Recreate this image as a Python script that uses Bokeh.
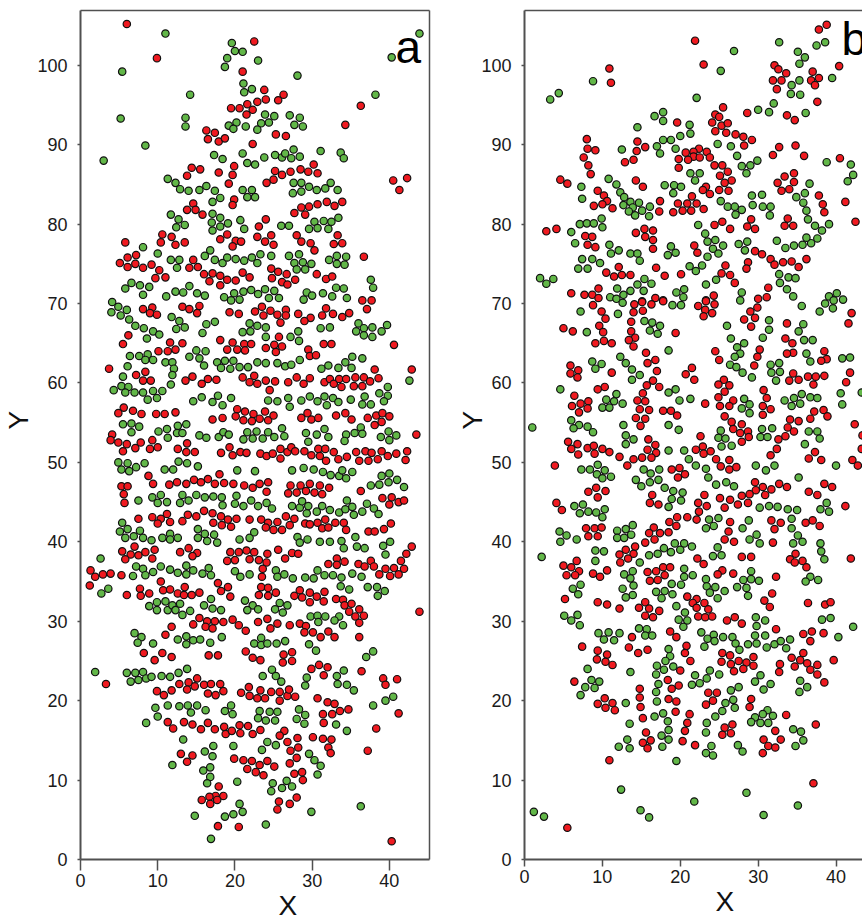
from bokeh.plotting import figure
from bokeh.layouts import row
from bokeh.models import LinearAxis, FixedTicker, Label, Range1d, Title
from bokeh.embed import file_html
from bokeh.resources import INLINE

x_ticks = [0, 10, 20, 30, 40]
y_ticks = [0, 10, 20, 30, 40, 50, 60, 70, 80, 90, 100]

# flat x,y pairs
a_red = [6.0,105.2, 9.9,100.9, 22.5,103.0, 21.0,99.2, 23.8,96.9, 26.3,96.3, 24.0,95.7, 25.6,95.6, 22.9,95.4, 21.6,95.1, 19.5,94.6, 20.6,94.6, 22.3,94.4, 21.5,93.8, 36.3,94.9, 34.3,92.5,
16.3,91.8, 17.4,91.5, 16.5,90.7, 17.9,90.4, 18.7,90.8, 25.3,91.3, 26.6,91.1, 22.3,90.1, 30.2,87.5, 14.4,87.1, 15.5,86.9, 19.9,87.3, 28.5,86.9, 29.5,86.6, 30.7,86.4, 27.2,86.6, 25.2,86.7, 17.9,86.5, 19.7,86.2, 13.8,86.1, 26.1,86.2, 25.0,85.6, 24.1,85.2, 19.2,85.1, 40.5,85.5, 42.3,85.8, 41.3,84.3,
19.9,83.1, 19.7,82.4, 14.6,82.6, 13.8,81.8, 14.9,81.8, 15.8,81.2, 33.9,82.8, 31.9,82.8, 30.7,82.5, 32.9,82.3, 29.6,82.2, 28.6,82.1, 27.7,81.4, 29.1,81.2, 24.0,80.6, 23.1,79.7, 10.6,78.7, 11.8,78.4, 10.4,77.7, 12.3,77.4, 13.5,77.7, 5.8,77.7, 19.0,78.7, 18.1,78.1, 20.1,77.9, 20.8,77.8, 19.7,77.2, 22.9,78.4, 24.7,78.6, 23.9,77.8, 25.0,77.4, 28.0,78.6, 28.6,77.8, 29.8,77.6, 30.3,76.7, 33.3,78.6, 32.8,77.5, 33.9,77.6, 36.7,75.9,
7.2,76.1, 6.1,75.8, 5.1,75.1, 6.1,74.6, 7.1,75.0, 8.1,74.5, 9.2,74.9, 10.2,74.2, 9.7,73.2, 11.0,73.3, 14.6,75.5, 14.1,74.5, 15.2,74.6, 16.0,73.7, 17.1,73.8, 16.7,72.8, 18.1,73.5, 19.0,73.0, 18.1,72.3, 20.1,72.9, 21.0,73.9, 21.9,73.3, 24.7,74.4, 25.6,74.0, 26.7,73.7, 24.8,73.2, 26.1,72.7, 26.8,72.4, 27.8,73.0, 30.6,73.7, 31.8,73.1, 32.6,73.4, 36.5,70.4, 37.7,70.4,
8.1,69.3, 9.3,69.5, 9.0,68.8, 9.9,68.6, 13.2,69.6, 14.1,69.3, 15.4,69.7, 15.1,68.8, 19.3,68.9, 20.5,68.7, 22.6,69.0, 23.5,69.6, 23.7,68.5, 24.6,69.1, 25.5,68.6, 26.6,69.2, 26.6,68.5, 28.2,68.7, 29.8,68.2, 29.0,67.8, 31.3,68.5, 31.8,69.4, 32.7,68.7, 33.9,68.3, 34.8,68.8, 37.1,69.3, 25.9,67.6, 6.2,66.0, 5.5,64.9, 11.6,65.1, 13.2,65.0, 10.1,64.0, 11.3,64.0, 12.3,64.2, 18.1,65.4, 19.7,65.1, 19.0,64.2, 20.3,64.2, 21.2,64.9, 22.1,64.9, 21.3,64.1, 25.7,65.8, 25.1,64.8, 26.1,64.6, 24.0,64.4, 25.3,63.9, 31.5,64.9, 32.5,64.9, 29.5,64.2, 29.7,63.4, 30.5,63.5, 40.6,64.8,
3.7,61.8, 8.4,61.4, 7.2,61.0, 8.1,60.3, 9.1,60.3, 14.5,60.8, 13.6,60.3, 15.7,59.9, 16.5,60.5, 17.6,60.4, 21.0,60.7, 22.5,60.9, 21.9,60.1, 22.9,59.9, 24.0,60.3, 25.2,60.2, 24.5,59.1, 26.9,60.1, 28.0,60.7, 28.9,59.9, 29.7,60.6, 31.6,60.1, 32.3,60.5, 32.8,59.9, 33.5,60.5, 33.8,59.5, 34.4,60.5, 35.4,59.6, 35.6,60.7, 36.5,59.6, 36.7,60.7, 37.5,60.2, 38.6,60.6, 38.1,61.7, 42.9,61.7,
5.6,56.9, 4.9,56.2, 6.8,56.5, 7.9,56.1, 9.8,56.1, 10.9,56.1, 12.3,56.3, 17.1,55.4, 18.4,55.6, 20.3,56.7, 20.1,55.8, 21.3,56.4, 21.1,55.3, 22.4,56.1, 22.2,55.2, 23.2,55.5, 23.9,56.4, 24.3,55.3, 25.0,55.9, 28.6,55.6, 29.4,56.2, 29.9,55.4, 30.8,55.6, 33.1,55.9, 34.3,56.2, 35.1,55.4, 37.2,55.6, 38.3,55.9, 39.1,56.2, 40.0,55.8, 38.1,54.7, 39.0,55.1, 43.5,53.5,
4.1,53.5, 3.9,52.8, 4.9,52.5, 6.0,52.3, 7.1,51.8, 7.8,52.5, 5.5,51.4, 9.3,52.8, 9.0,51.7, 10.0,51.9, 13.8,52.4, 12.6,51.7, 13.7,51.3, 14.8,51.3, 19.3,51.9, 18.2,51.2, 19.7,50.9, 20.7,51.3, 21.5,51.2, 23.3,51.1, 24.1,50.8, 24.9,51.1, 25.9,51.7, 25.9,50.5, 26.8,51.3, 27.3,51.9, 27.8,51.4, 29.0,51.4, 29.9,50.9, 30.8,51.7, 31.0,50.8, 31.7,51.7, 31.8,50.2, 32.8,51.3, 33.4,50.4, 34.5,50.7, 35.7,51.3, 36.1,50.2, 36.9,51.4, 37.3,50.2, 37.7,51.2, 38.5,50.4, 39.0,51.4, 39.8,50.8, 40.9,51.1, 42.3,51.4, 42.1,50.3,
8.8,48.3, 9.4,47.3, 5.3,47.0, 6.1,47.0, 5.6,46.0, 5.7,44.9, 11.5,47.2, 12.5,47.5, 13.7,47.3, 14.7,47.8, 15.6,47.5, 16.5,47.9, 17.4,47.3, 18.0,48.5, 18.6,47.4, 19.8,47.3, 21.2,47.1, 22.3,46.8, 23.2,47.3, 24.3,47.5, 24.1,46.3, 27.2,47.1, 26.9,46.1, 28.0,46.2, 28.5,47.1, 29.2,46.4, 29.7,47.3, 30.3,46.2, 31.0,47.1, 31.3,46.0, 32.2,46.8, 36.3,46.4, 39.1,45.5, 40.3,45.6, 40.0,44.7, 41.2,45.0, 41.9,45.2,
11.2,43.5, 10.4,42.9, 9.3,43.1, 10.0,42.3, 11.6,42.5, 7.5,42.9, 13.2,42.6, 13.9,43.4, 15.0,43.2, 16.0,43.9, 17.1,43.6, 18.2,43.2, 17.2,42.4, 18.3,42.1, 19.1,42.8, 19.5,41.9, 20.2,42.9, 21.9,42.8, 23.4,42.8, 24.3,42.4, 24.0,41.8, 25.0,41.5, 25.5,42.5, 26.1,41.5, 26.6,43.2, 27.1,42.1, 27.7,42.9, 29.1,42.3, 29.7,42.2, 30.7,42.4, 31.7,42.8, 31.3,41.7, 32.1,41.8, 33.0,42.4, 34.1,42.4, 34.4,41.5, 37.3,41.3, 38.1,41.3, 39.3,41.6, 40.2,42.3,
5.4,38.8, 7.0,39.4, 6.5,38.4, 5.8,37.8, 7.5,38.3, 8.4,38.7, 9.6,39.0, 9.3,37.9, 12.9,38.7, 14.0,39.2, 15.1,38.6, 14.5,38.2, 19.4,38.7, 20.5,38.7, 21.5,38.9, 22.5,38.7, 19.0,37.6, 20.0,37.7, 21.9,37.8, 23.1,37.7, 24.2,38.5, 24.1,37.4, 25.6,39.0, 26.5,37.9, 27.4,38.6, 28.2,38.5, 32.1,37.2, 33.2,37.9, 33.2,37.1, 34.2,37.5, 36.0,37.2, 36.8,36.9, 37.6,37.6, 38.0,36.9, 39.5,36.6, 40.6,36.7, 41.5,37.6, 42.2,38.5, 42.9,39.4, 41.9,36.6, 38.7,35.9, 40.1,35.7, 41.2,35.9, 1.3,36.4, 1.9,35.6, 2.9,35.9, 3.9,36.0, 5.3,35.8, 23.6,36.6, 23.5,35.6,
1.2,34.5, 6.0,33.3, 7.7,34.1, 7.8,33.2, 8.9,33.5, 10.4,35.0, 10.7,33.9, 11.6,34.0, 12.6,33.5, 13.5,34.3, 13.4,33.3, 14.4,33.3, 15.4,33.6, 17.8,34.8, 19.1,34.3, 18.2,33.8, 19.4,33.1, 23.4,34.3, 24.3,34.2, 23.1,33.3, 24.3,33.2, 25.3,33.6, 27.7,33.2, 28.4,33.9, 28.7,33.0, 29.7,33.6, 29.7,32.4, 30.6,33.1, 31.6,33.7, 31.5,32.5, 33.1,32.8, 34.0,32.7, 34.2,32.0, 35.1,32.2, 34.8,31.2, 36.1,31.5, 35.6,30.6, 36.7,30.7, 36.1,29.8, 43.9,31.2,
15.4,30.4, 16.4,30.0, 17.4,30.0, 16.2,29.3, 17.1,29.1, 14.6,29.6, 18.5,29.9, 19.7,30.2, 20.5,29.5, 21.4,28.8, 23.0,29.9, 24.2,30.3, 24.6,29.1, 25.5,29.7, 27.1,29.5, 28.4,29.7, 29.2,29.4, 29.0,28.6, 30.1,28.6, 31.1,28.0, 32.1,28.7, 32.9,28.0, 36.1,28.0, 11.8,29.3, 11.0,28.3, 8.2,26.0, 9.6,25.1, 10.6,26.0, 11.8,25.5, 16.6,25.7, 17.8,25.7, 21.4,26.2, 22.3,25.4, 23.3,25.1, 26.3,25.8, 27.4,26.1, 26.2,24.8, 27.4,25.0, 29.9,24.0, 30.9,24.5, 32.0,24.2, 31.5,23.2, 36.4,23.7, 39.2,22.8, 41.0,22.7, 39.5,22.0, 3.3,22.1,
15.1,22.8, 14.0,22.3, 12.8,22.1, 14.8,21.8, 13.8,21.4, 11.8,21.3, 9.9,21.2, 10.8,20.7, 16.0,22.0, 16.9,22.1, 18.1,22.1, 18.5,21.2, 16.5,20.9, 17.5,20.7, 20.8,21.0, 21.8,21.7, 21.9,20.6, 23.3,21.3, 22.9,20.3, 23.9,20.3, 24.7,21.1, 25.8,21.1, 26.8,20.6, 27.0,21.4, 25.8,20.0, 27.8,20.5, 30.7,20.3, 32.0,19.8, 32.9,19.6, 34.7,18.9, 33.6,18.7, 32.6,18.3, 31.4,18.3, 31.5,17.2, 41.2,18.4, 38.3,16.5,
11.3,17.3, 12.0,16.5, 13.4,17.3, 14.5,17.0, 15.6,16.4, 16.5,17.2, 17.4,16.4, 18.6,16.7, 18.8,15.8, 19.6,16.2, 20.6,16.9, 20.7,15.9, 21.7,16.8, 22.3,15.8, 23.3,16.3, 26.4,16.2, 25.8,15.6, 28.1,15.3, 26.8,14.8, 28.2,14.1, 27.2,13.7, 28.0,12.8, 27.1,12.1, 30.1,15.4, 31.4,15.2, 32.5,15.1, 32.1,14.1, 32.4,13.4, 37.2,13.7, 13.0,13.3, 14.5,13.1, 13.8,12.3, 19.9,12.7, 21.1,12.5, 22.2,12.4, 23.2,11.9, 24.2,12.4, 25.1,11.7, 21.6,11.4, 22.7,11.0, 23.7,10.6, 27.7,10.8, 28.7,11.0, 28.8,10.0,
17.9,9.2, 17.5,8.0, 18.5,8.0, 16.7,7.9, 15.7,7.5, 16.8,7.0, 17.7,7.5, 28.0,7.8, 25.7,7.3, 27.1,7.0, 25.5,6.3, 17.8,4.2, 20.5,4.1, 40.3,2.3]

a_green = [43.9,104.0, 40.3,101.0, 11.0,104.0, 5.4,99.2, 19.6,102.8, 20.0,101.8, 21.0,101.7, 19.0,100.9, 18.7,99.8, 23.0,100.6, 28.1,98.7, 21.1,97.7, 22.2,97.0, 21.2,96.6, 14.2,96.3, 38.2,96.3, 5.2,93.3, 13.6,93.4, 13.6,92.3, 23.9,93.8, 25.1,93.6, 27.1,93.7, 28.4,93.4, 27.7,92.5, 28.8,92.3, 24.4,92.8, 23.4,92.7, 22.9,91.9, 21.4,92.3, 20.2,92.8, 19.2,92.4, 19.8,92.0, 8.4,89.9, 3.0,88.0,
17.3,88.7, 18.4,88.2, 21.0,88.9, 21.6,87.7, 22.6,87.5, 23.8,88.4, 25.2,88.7, 26.1,88.4, 26.5,88.9, 27.3,88.3, 27.6,89.4, 28.4,88.5, 31.1,89.2, 33.7,89.0, 34.1,88.3, 11.3,85.7, 12.3,85.2, 12.9,84.4, 14.0,84.2, 15.4,84.3, 16.3,84.8, 17.4,84.2, 18.1,83.3, 17.1,82.8, 21.0,84.3, 22.2,84.3, 21.6,83.4, 22.6,83.4, 27.6,85.2, 28.6,85.2, 29.6,84.7, 27.5,83.9, 28.6,84.1, 30.6,84.3, 31.7,84.5, 32.4,85.2, 33.3,84.3,
11.7,81.2, 12.7,80.6, 13.5,79.9, 12.4,79.6, 17.1,81.3, 18.1,80.8, 17.0,80.2, 18.1,79.7, 19.1,80.1, 17.1,79.2, 20.7,80.5, 21.2,79.4, 26.0,79.8, 27.0,79.8, 30.3,80.3, 31.5,80.4, 32.5,80.3, 33.4,80.8, 29.6,79.4, 30.7,79.5, 32.1,79.4, 8.1,77.1, 10.0,76.3, 16.8,76.7, 16.1,76.0, 11.7,75.5, 12.8,75.5, 12.5,74.5, 17.4,75.5, 18.4,75.1, 19.0,75.8, 20.1,75.6, 21.2,75.4, 22.2,75.8, 23.3,76.2, 22.9,75.1, 24.7,76.0, 27.0,76.0, 28.3,76.2, 27.7,75.1, 28.8,75.2, 29.9,75.0, 28.0,74.3, 29.1,74.3, 32.2,75.5, 33.2,76.0, 34.4,75.9, 33.2,75.0, 34.2,74.9,
37.6,73.0, 37.9,72.0, 33.1,72.0, 34.1,71.9, 6.6,72.6, 7.7,72.3, 8.9,72.1, 5.8,71.9, 8.1,71.1, 11.1,70.9, 12.3,71.5, 13.3,71.4, 14.1,72.2, 15.1,71.3, 16.1,71.0, 18.6,70.8, 19.9,71.3, 21.1,71.5, 22.1,71.7, 23.0,71.2, 23.9,71.8, 25.1,71.6, 19.5,70.4, 20.6,70.5, 24.4,70.7, 25.7,70.7, 29.3,71.4, 30.0,71.0, 28.9,70.5, 31.4,71.3, 32.6,70.9, 34.5,70.7,
4.1,70.2, 4.9,69.6, 6.0,69.2, 4.0,68.9, 5.2,68.5, 6.3,68.0, 7.1,67.2, 8.2,66.9, 9.4,66.5, 10.2,66.1, 8.6,65.6, 11.8,68.3, 12.8,67.8, 13.5,67.0, 12.4,66.8, 16.3,67.4, 17.4,67.7, 15.8,66.3, 21.9,67.5, 22.9,67.2, 21.0,66.4, 22.0,66.5, 24.0,67.0, 24.0,65.8, 28.2,66.5, 27.2,65.8, 28.3,65.3, 31.1,66.9, 32.3,67.0, 36.0,67.5, 36.7,66.9, 35.7,66.5, 37.8,67.0, 36.7,66.0, 37.8,65.8, 39.0,66.5, 39.7,67.3,
6.4,63.4, 7.6,63.4, 8.7,63.6, 8.4,62.9, 9.4,62.9, 11.0,62.6, 11.9,62.6, 12.1,61.8, 11.9,61.0, 11.7,59.8, 6.1,62.1, 5.5,60.8, 5.3,59.6, 6.2,59.5, 4.3,59.1, 5.8,58.8, 7.0,58.8, 8.1,58.8, 9.4,59.0, 10.6,59.0, 9.9,58.1, 8.7,57.9, 14.1,63.3, 15.0,64.1, 16.2,64.0, 15.4,63.1, 16.0,62.2, 17.7,62.6, 18.7,62.8, 19.8,62.8, 18.2,61.9, 19.4,61.8, 20.6,62.0, 21.7,62.0, 22.9,62.6, 24.0,62.5, 25.5,62.5, 26.5,62.1, 27.3,62.3, 28.4,62.9, 31.2,61.8, 32.1,62.2, 33.4,61.9, 34.3,62.6, 35.2,63.3, 36.5,63.1, 35.1,61.9, 42.6,60.3, 39.8,59.5, 38.7,58.7, 39.8,58.4, 39.3,57.7,
14.6,57.7, 15.7,58.2, 17.1,57.6, 17.8,58.4, 18.4,57.2, 19.5,58.1, 24.3,57.8, 25.5,57.7, 26.9,58.1, 27.1,57.0, 28.6,57.8, 29.7,58.3, 30.7,57.7, 31.6,58.3, 32.7,58.1, 33.4,57.6, 31.9,57.2, 35.0,57.9, 36.8,58.3, 36.5,57.3, 37.6,57.3, 5.5,54.8, 6.6,54.9, 7.6,54.5, 6.6,53.8, 10.1,53.9, 11.2,54.2, 11.3,53.1, 12.6,54.6, 13.7,54.8, 12.5,53.7, 13.2,53.7, 15.4,53.4, 16.3,53.1, 17.9,53.2, 18.5,53.8, 19.2,53.5, 21.6,53.8, 22.8,53.9, 24.3,53.8, 25.1,53.2, 21.1,52.9, 22.3,53.0, 23.6,53.0, 26.1,54.3, 26.4,53.3, 29.2,53.7, 29.5,52.6, 30.6,53.5, 31.6,54.2, 32.1,53.2, 34.4,53.5, 34.2,52.7, 35.5,53.7, 36.3,54.4, 36.5,53.6, 38.9,53.2, 39.9,53.9, 40.9,53.4, 40.0,52.8,
4.9,50.0, 6.1,49.9, 5.3,49.1, 6.3,48.9, 7.2,49.4, 8.3,49.9, 10.9,49.1, 12.0,49.1, 12.7,50.1, 13.8,49.9, 15.2,49.5, 20.3,49.0, 22.6,48.9, 27.4,49.0, 28.9,49.3, 30.2,49.1, 31.4,48.8, 32.4,48.4, 33.5,48.3, 33.9,49.0, 35.2,48.8, 34.4,48.0, 39.0,48.3, 40.0,48.6, 41.0,47.8, 39.9,47.5, 38.7,47.2, 37.6,47.1, 41.9,46.9, 7.5,45.2, 9.3,45.6, 10.4,45.9, 10.0,44.9, 11.2,45.0, 13.2,45.9, 14.0,45.2, 12.9,44.9, 15.0,45.9, 16.1,45.6, 17.2,45.7, 18.3,45.6, 18.4,44.6, 20.2,45.8, 20.0,44.8, 21.1,44.5, 22.1,45.2, 23.0,44.5, 24.1,44.9, 24.8,44.2, 27.4,44.5, 28.4,44.3, 28.7,45.1, 29.5,44.5, 29.3,43.6, 30.6,43.8, 31.3,44.5, 32.3,44.0, 33.5,43.7, 34.3,44.1, 34.5,45.2, 35.2,44.4, 35.4,43.4, 36.5,43.8, 37.1,44.8, 38.0,44.2, 38.6,43.5,
5.4,42.4, 5.1,41.3, 6.1,41.6, 5.8,40.5, 6.9,40.7, 7.7,41.4, 8.1,40.5, 9.2,40.2, 10.6,40.5, 11.6,41.0, 11.6,40.3, 12.6,40.5, 15.2,41.6, 16.1,41.0, 15.2,40.5, 17.3,40.9, 16.4,40.1, 17.7,39.9, 20.6,40.3, 21.9,40.5, 22.5,41.2, 28.1,40.6, 28.4,39.9, 29.4,40.3, 31.0,40.0, 32.3,40.0, 33.8,40.1, 34.1,39.2, 35.6,40.6, 35.8,39.4, 36.8,39.2, 39.2,39.5, 40.1,40.0, 39.5,38.4, 2.6,37.9, 7.2,36.9, 8.1,36.6, 9.4,36.2, 8.4,35.8, 6.8,35.7, 10.4,36.9, 11.6,36.5, 12.6,36.1, 13.7,37.0, 13.7,35.9, 14.6,36.4, 16.6,36.7, 15.8,36.0, 16.9,35.8, 20.0,36.3, 20.7,35.6, 21.9,35.9, 25.3,36.4, 25.5,35.6, 26.4,35.9, 27.5,35.4, 29.1,35.5, 30.2,35.4, 30.7,36.4, 31.6,35.8, 32.7,35.8, 33.8,35.5, 35.2,36.0, 36.4,35.6,
3.6,34.1, 2.7,33.5, 16.9,32.8, 16.0,32.0, 17.1,31.6, 18.2,31.4, 8.9,31.9, 9.9,32.4, 9.9,31.4, 11.0,32.5, 11.3,31.4, 11.9,32.0, 12.3,31.4, 12.9,32.2, 13.2,30.8, 14.2,31.3, 21.3,32.6, 22.3,32.0, 21.6,31.4, 23.0,31.5, 25.8,32.3, 26.8,32.0, 25.2,31.5, 26.2,31.1, 33.7,34.4, 34.8,34.0, 37.2,34.3, 38.4,34.3, 39.4,33.8, 38.5,33.2, 29.8,30.6, 30.7,30.7, 31.7,30.6, 30.8,29.9, 33.5,30.6, 32.9,30.1, 34.0,29.5,
7.0,28.5, 7.9,28.0, 7.4,27.3, 9.4,27.2, 12.6,27.7, 13.7,28.1, 14.6,27.6, 13.7,27.1, 15.5,27.7, 16.8,27.3, 18.3,28.0, 23.4,27.9, 22.5,27.2, 23.4,27.0, 24.2,27.2, 25.4,27.2, 26.5,27.5, 29.6,27.1, 30.5,26.3, 37.9,26.2, 37.0,25.5, 1.9,23.6, 6.0,23.5, 7.1,23.5, 8.1,23.6, 6.5,22.4, 7.5,22.6, 8.5,22.8, 9.2,23.0, 10.5,23.1, 11.6,23.0, 12.7,23.5, 13.8,24.0, 24.8,23.9, 23.6,23.1, 25.3,23.1, 26.0,22.4, 29.3,22.9, 29.1,21.9, 34.1,23.8, 33.2,23.1, 33.3,22.1, 34.5,22.0, 35.4,21.3, 40.5,20.5, 39.5,20.0, 37.9,19.4,
9.7,19.1, 10.0,18.0, 8.5,17.2, 11.3,19.4, 12.8,19.3, 13.9,19.4, 15.1,19.4, 14.3,18.5, 16.2,18.8, 19.5,19.4, 18.7,18.7, 19.7,18.3, 23.2,18.7, 24.5,18.6, 25.5,18.6, 23.0,17.8, 24.0,17.5, 25.2,17.5, 28.3,18.9, 29.1,18.2, 28.0,17.7, 29.0,17.1, 33.1,17.0, 34.5,16.2, 13.3,15.1, 17.2,14.3, 16.1,13.6, 17.1,13.0, 19.8,14.3, 24.2,14.8, 25.3,14.4, 23.5,13.8, 29.6,13.3, 30.3,12.5, 31.1,11.8, 30.7,10.7, 11.9,11.9, 16.8,11.6, 15.9,11.2, 16.8,10.4, 16.4,9.6, 20.3,9.8, 24.9,9.6, 26.7,9.9, 27.4,9.2, 26.1,9.0, 24.7,8.6, 20.6,7.0, 21.0,6.0, 19.8,5.7, 18.7,5.4, 14.8,5.5, 29.9,6.0, 36.3,6.7, 24.0,4.4, 16.9,2.6]

b_red = [38.8,105.1, 37.8,104.5, 21.9,103.1, 23.0,100.1, 10.9,99.6, 11.1,97.8, 32.1,100.0, 32.6,99.5, 33.6,99.0, 37.0,99.2, 37.8,98.4, 36.8,98.1, 37.3,97.5, 31.9,98.1, 33.0,98.1, 32.4,97.0, 40.4,99.9, 37.6,95.4, 25.5,94.7, 24.5,93.8, 25.0,93.5, 24.1,92.8, 25.3,92.4, 26.1,92.7, 24.5,91.7, 25.9,91.5, 27.1,91.3, 28.1,91.0, 29.2,90.6, 28.2,89.9, 28.6,94.0, 33.7,93.7, 34.7,93.1, 19.6,92.8,
8.0,90.7, 8.1,89.5, 9.1,89.3, 7.6,88.4, 8.2,87.4, 8.5,86.3, 14.5,90.4, 14.4,89.2, 15.5,89.7, 14.0,88.1, 12.9,87.8, 22.4,89.5, 21.7,89.1, 20.7,89.0, 23.4,89.1, 21.7,88.5, 22.5,88.4, 23.8,88.4, 19.8,88.2, 21.0,88.1, 19.8,87.1, 24.4,87.4, 25.4,87.4, 26.1,86.6, 25.1,86.1, 26.6,85.5, 25.7,85.2, 32.7,89.7, 31.9,88.7, 34.8,89.9, 35.9,88.6, 40.5,88.3, 4.6,85.6, 5.5,85.1, 14.3,85.5, 15.2,84.7, 23.3,84.7, 22.9,84.3, 23.8,83.8, 25.0,84.3, 26.2,84.2, 33.4,86.0, 34.6,86.4, 34.6,85.3, 32.5,85.2, 33.0,84.2, 34.0,84.4, 37.8,83.6, 38.3,82.5, 38.5,81.5, 41.2,82.8, 42.5,80.3,
9.4,84.2, 10.2,83.6, 10.6,82.9, 10.0,82.5, 8.9,82.3, 11.3,82.0, 17.4,82.9, 17.3,81.6, 19.1,81.5, 19.7,82.6, 20.3,81.7, 20.9,82.6, 21.5,83.5, 22.1,82.6, 21.4,81.7, 23.0,81.9, 29.1,80.6, 28.6,79.7, 29.6,79.4, 33.8,80.7, 33.4,79.8, 34.5,79.8, 24.4,79.9, 25.4,80.3, 26.4,79.4, 4.1,79.4, 2.8,79.1, 7.8,78.5, 8.7,78.4, 8.1,77.4, 9.1,77.1, 14.3,78.9, 15.4,79.4, 16.5,79.2, 15.5,78.4, 16.5,78.0, 16.5,76.9, 21.8,77.3, 22.2,76.4, 29.6,76.6, 30.5,76.2, 31.6,75.6, 32.1,74.9, 33.2,75.2, 34.3,75.3, 35.2,74.6, 36.2,75.6, 28.7,75.2, 28.5,74.4, 25.8,74.8, 25.3,73.8, 26.4,73.6, 27.0,72.6,
12.1,74.6, 10.5,73.9, 11.5,73.4, 12.5,73.6, 13.6,73.6, 16.9,74.5, 18.0,73.5, 20.1,73.7, 31.3,72.0, 6.0,71.3, 7.7,71.1, 8.7,71.1, 9.5,71.9, 9.5,70.7, 16.8,70.7, 17.8,70.4, 24.3,71.0, 23.3,70.4, 31.1,70.8, 30.0,70.6, 15.1,70.3,
8.8,69.8, 9.9,69.0, 10.4,68.1, 14.1,69.9, 15.1,70.2, 16.3,69.9, 17.8,70.3, 15.2,69.1, 14.0,68.9, 13.7,67.7, 22.3,69.7, 23.3,70.3, 24.4,69.9, 23.2,69.2, 24.1,68.8, 23.0,68.4, 29.9,69.5, 29.0,69.0, 28.2,68.0, 29.6,68.2, 29.1,67.1, 42.0,68.8, 41.6,67.5, 33.7,67.5, 5.0,66.9, 6.2,66.5, 9.6,67.2, 10.1,66.4, 9.1,65.0, 10.2,65.3, 11.2,65.0, 13.7,66.5, 14.2,65.7, 13.4,65.4, 14.0,64.6, 19.4,66.3, 33.5,65.6, 34.4,65.0, 34.5,63.8, 33.7,63.7, 30.2,64.2, 29.9,63.3, 29.5,62.2, 24.5,64.0, 25.0,62.9, 38.5,64.0, 38.8,63.0, 38.1,62.8,
15.6,63.8, 16.8,62.9, 15.8,62.5, 17.0,61.5, 5.9,62.2, 6.9,61.6, 5.9,61.2, 6.8,60.7, 11.2,61.3, 21.5,61.9, 20.7,61.1, 21.8,60.4, 16.5,60.3, 15.7,59.7, 17.3,59.5, 15.2,58.7, 10.3,59.5, 9.4,59.2, 6.4,58.4, 25.6,60.4, 24.9,59.8, 26.3,59.7, 25.7,58.9, 24.9,58.2, 26.8,57.8, 25.1,57.1, 26.3,57.1, 23.2,57.4, 30.7,59.1, 31.1,58.1, 30.6,57.1, 31.6,56.7, 30.6,56.0, 34.5,61.2, 34.0,60.3, 35.2,60.4, 36.4,60.8, 37.4,60.8, 38.5,60.9, 37.1,59.8, 41.8,61.3, 41.3,60.1,
8.2,57.7, 7.2,57.4, 6.1,57.1, 8.1,56.8, 7.0,56.3, 14.5,57.8, 15.5,57.7, 14.8,56.7, 16.0,56.6, 14.3,55.6, 15.5,55.5, 14.9,54.6, 17.8,56.5, 18.8,56.5, 19.6,55.9, 25.7,55.8, 26.6,55.1, 27.9,54.8, 26.8,54.2, 27.7,53.7, 28.7,53.9, 28.8,53.2, 27.9,52.6, 37.2,56.4, 38.4,56.6, 38.9,55.8, 36.7,55.5, 35.2,55.2, 34.1,55.4, 33.8,54.4, 34.6,53.9, 33.5,53.3, 32.6,52.9, 32.4,51.7, 31.6,50.9, 42.4,54.8,
22.6,53.3, 22.9,52.0, 22.0,51.6, 23.0,51.1, 23.9,51.4, 24.6,50.4, 26.3,50.3, 25.2,49.5, 26.3,49.1, 27.2,49.4, 15.9,52.9, 16.8,52.2, 15.8,51.6, 16.9,51.2, 16.3,50.6, 15.1,50.6, 14.0,50.4, 12.2,50.7, 13.2,49.6, 5.6,52.6, 6.8,52.3, 6.0,51.7, 6.9,51.0, 8.1,51.8, 8.9,52.1, 9.0,51.1, 10.0,51.7, 10.9,51.3, 3.9,49.6, 37.3,51.3, 36.5,50.5, 38.1,50.3, 42.1,50.3, 42.8,49.6, 43.4,53.4, 43.3,51.7, 18.9,49.1, 19.9,49.3, 20.6,48.5, 19.7,48.1,
8.2,46.3, 9.2,46.8, 10.4,46.4, 9.4,45.6, 4.1,44.9, 4.8,44.0, 29.6,47.5, 29.7,46.5, 30.6,46.9, 31.7,46.6, 32.7,47.3, 33.7,46.9, 30.9,45.9, 28.9,46.0, 27.9,45.8, 26.4,45.3, 25.1,45.5, 23.1,45.9, 27.4,44.7, 28.7,44.9, 25.7,44.3, 22.3,44.9, 23.4,44.5, 22.4,43.8, 36.5,46.3, 37.6,45.9, 38.5,47.3, 39.5,46.9, 41.2,44.5, 16.4,45.9, 16.1,44.9, 17.2,44.7, 19.6,43.1, 20.9,43.1, 22.1,42.8, 18.6,42.5, 19.5,42.0, 16.6,41.8, 16.0,41.1, 17.4,41.1, 18.5,41.2, 16.7,40.3, 15.5,39.9, 7.9,41.7, 9.0,41.7, 9.9,41.8, 8.2,40.7, 9.4,40.7,
14.2,39.4, 13.0,39.0, 12.2,38.4, 14.0,38.5, 13.3,37.9, 12.3,37.4, 26.4,42.5, 26.2,41.3, 31.7,42.7, 32.1,41.6, 32.9,42.4, 36.1,42.4, 37.0,42.7, 37.9,42.0, 25.7,40.3, 26.9,40.0, 31.9,39.9, 27.9,38.1, 29.1,38.1, 22.2,37.9, 23.0,37.2, 34.8,38.5, 34.1,37.8, 34.7,37.4, 35.7,37.6, 36.2,36.8, 41.9,37.9, 6.7,37.6, 5.0,37.0, 6.0,36.8, 7.0,36.3, 5.4,35.8, 6.5,35.8, 8.8,36.0, 9.7,35.6, 10.6,36.4, 15.8,36.2, 16.9,36.3, 17.8,36.8, 18.7,36.8, 18.0,35.8, 25.4,36.4, 24.8,35.9, 26.8,36.0, 32.3,35.6,
5.2,32.8, 9.4,32.4, 10.6,32.1, 12.2,31.6, 14.7,31.7, 15.5,32.4, 16.0,31.6, 17.3,31.3, 15.5,30.7, 16.5,30.5, 16.1,35.1, 17.1,35.2, 20.9,33.1, 22.1,32.8, 21.6,32.3, 23.1,32.3, 22.1,31.7, 23.6,31.5, 22.3,30.6, 23.2,30.5, 24.1,30.6, 26.0,30.1, 27.0,30.5, 27.9,29.7, 31.8,33.5, 30.8,32.6, 31.5,31.8, 36.4,32.3, 38.6,32.1, 39.3,32.4, 32.3,29.0, 35.8,28.4, 36.9,28.7, 38.4,28.5, 36.7,27.5, 35.8,26.0, 34.3,25.4, 35.4,25.1, 34.7,24.3, 36.3,24.7, 37.6,24.5, 36.7,23.9, 37.6,23.3, 38.5,22.3, 39.7,25.1,
18.7,28.7, 19.5,28.0, 13.8,28.0, 13.4,26.7, 14.6,26.0, 15.8,26.4, 7.4,26.8, 9.4,26.3, 10.6,25.8, 9.3,25.2, 10.4,24.9, 11.3,24.5, 20.8,26.9, 20.6,26.0, 21.3,25.0, 20.0,23.8, 25.4,26.0, 26.4,25.7, 25.3,24.9, 26.5,24.6, 27.5,25.0, 28.5,24.8, 29.4,25.5, 29.4,24.4, 28.1,24.0, 26.9,23.7, 32.8,24.6, 32.7,23.6, 6.4,22.4, 14.8,21.5, 14.8,20.4, 14.9,19.2, 15.2,17.8, 18.4,22.6, 18.9,21.5, 19.8,21.9, 18.5,20.2, 19.5,19.9, 19.4,18.6, 10.3,20.3, 9.4,19.6, 11.3,19.7, 10.4,19.1, 11.6,18.8, 23.6,21.0, 24.7,21.0, 24.2,20.0, 23.3,19.5, 29.1,20.2, 28.9,19.2, 21.2,18.3, 20.9,17.2, 20.6,16.2, 20.3,14.9, 21.9,14.4, 33.6,18.2, 37.4,17.0, 26.7,17.0, 25.7,16.6, 25.4,15.7, 26.5,15.9, 32.2,16.2, 30.7,15.1, 32.9,15.1, 31.3,14.3, 32.2,14.1, 30.6,13.4, 15.6,16.0, 16.2,15.0, 15.2,14.7, 15.8,14.0, 10.9,12.5, 37.1,9.6, 5.5,4.0]

b_green = [32.7,102.9, 37.5,102.5, 38.6,102.9, 26.9,101.8, 35.1,101.7, 36.0,101.0, 35.3,100.2, 25.2,99.3, 8.8,98.0, 3.3,95.7, 4.4,96.5, 35.3,98.1, 34.3,97.5, 34.2,96.4, 35.4,96.3, 39.5,98.4, 22.1,95.9, 32.0,95.2, 31.4,94.1, 30.0,94.4, 36.1,94.0, 17.8,94.1, 16.7,93.6, 17.8,93.0, 21.2,92.5, 21.3,91.4, 20.0,91.1, 14.5,92.2, 17.8,90.6, 18.8,90.6, 17.0,89.8, 17.4,88.9, 19.4,89.5, 12.5,89.4, 24.8,90.1, 26.5,89.8, 27.3,88.6, 27.9,87.3, 29.0,87.4, 29.9,88.0, 28.5,86.4, 38.8,87.8, 41.9,87.5, 42.2,86.2, 41.5,85.4,
21.3,86.4, 22.5,86.4, 21.9,85.5, 10.8,85.7, 11.8,85.0, 12.3,84.0, 12.8,83.4, 7.3,84.7, 7.4,83.2, 12.7,82.4, 13.6,82.8, 14.7,82.7, 13.9,82.1, 13.4,81.6, 15.1,81.7, 16.1,82.2, 14.2,81.1, 16.0,81.0, 18.0,84.9, 19.2,84.9, 20.1,84.7, 19.1,83.9, 36.6,85.1, 36.0,83.9, 34.9,83.4, 35.8,82.7, 36.2,81.7, 36.4,80.6, 37.3,79.8, 39.1,80.0, 38.2,79.2, 37.6,78.2, 36.8,77.6, 36.2,78.3, 35.7,77.4, 34.6,77.3, 33.5,77.0, 32.4,77.9, 29.2,83.6, 30.5,83.7, 29.3,82.4, 30.6,82.2, 31.6,82.2, 31.5,81.1, 25.2,82.9, 26.1,82.2, 27.0,82.2, 27.9,81.8, 27.1,81.2,
22.3,79.9, 23.2,78.8, 23.5,77.8, 24.5,78.0, 25.5,77.3, 24.2,76.9, 24.9,76.3, 23.5,75.9, 22.8,74.8, 21.2,74.7, 22.0,74.1, 27.5,77.5, 28.6,77.8, 28.3,76.7, 7.1,80.0, 8.0,80.1, 8.9,80.1, 9.9,80.7, 10.0,79.6, 6.0,79.0, 6.5,77.6, 10.9,77.4, 12.1,76.7, 11.1,76.3, 13.6,76.3, 14.5,76.3, 14.8,75.4, 18.8,77.2, 19.4,76.4, 18.4,76.1, 7.4,75.6, 8.7,75.6, 9.7,75.1, 6.9,74.4, 8.1,74.4, 2.0,73.2, 2.8,72.5, 3.7,73.1, 15.4,73.1, 14.5,72.4, 16.3,72.5, 15.3,71.6, 13.6,71.6, 11.9,71.9, 12.7,71.1, 11.0,70.8, 11.8,70.6, 20.5,71.8, 19.5,71.4, 20.4,70.8, 23.3,72.4, 24.6,73.0, 27.9,71.4, 27.7,70.4, 32.7,73.7, 33.9,73.3, 34.8,73.2, 32.8,72.6, 33.7,71.8, 34.5,70.9, 39.1,70.9, 40.1,71.3, 40.9,70.5, 39.7,70.4,
7.2,69.0, 12.0,68.7, 12.6,70.1, 19.0,69.8, 20.1,69.8, 35.6,69.7, 38.6,70.0, 39.6,69.4, 37.9,69.0, 31.4,67.9, 35.8,67.4, 35.2,66.5, 31.4,66.7, 30.6,65.7, 35.9,65.4, 37.0,65.4, 26.0,67.2, 26.5,65.6, 28.2,65.0, 27.3,64.5, 27.7,63.7, 27.0,63.3, 26.4,62.3, 27.2,62.0, 28.0,61.3, 29.2,60.7, 15.4,67.8, 16.4,67.6, 17.4,67.2, 16.1,66.6, 17.1,66.2, 8.0,66.4, 18.5,64.1, 12.3,63.3, 13.0,62.5, 13.8,61.7, 14.8,61.0, 13.8,60.4, 8.7,62.7, 9.9,62.4, 9.1,61.8, 36.2,63.7, 36.7,62.7, 40.8,63.1, 41.8,63.2, 31.6,62.3, 32.7,62.5, 31.7,61.3, 32.8,61.4, 32.3,60.3,
4.6,59.2, 18.5,58.8, 19.4,59.2, 19.9,57.8, 21.3,58.0, 11.8,58.6, 10.5,57.9, 11.5,57.7, 12.6,57.4, 10.0,56.9, 10.9,56.9, 28.2,58.0, 28.9,57.3, 27.9,56.8, 28.9,56.2, 33.4,57.8, 34.6,58.1, 35.6,58.6, 35.4,57.4, 34.3,57.1, 36.7,58.2, 37.6,58.1, 40.6,58.7, 40.8,57.3, 43.3,58.8, 6.0,55.3, 7.0,54.7, 6.3,54.3, 8.1,54.5, 8.8,53.8, 12.7,54.7, 18.5,54.7, 19.8,54.1, 13.0,53.4, 14.0,52.9, 13.0,52.3, 30.5,54.2, 31.8,54.3, 30.3,53.2, 31.2,53.2, 36.5,53.9, 37.6,53.9, 37.9,53.0, 36.0,52.3, 25.2,54.0, 24.9,53.1, 25.8,53.0, 25.3,52.0, 26.6,52.1, 1.0,54.4,
18.5,51.5, 20.5,51.5, 21.1,50.4, 22.0,49.6, 23.3,49.2, 23.6,48.1, 24.6,47.2, 25.9,47.5, 26.9,47.0, 29.7,49.6, 31.0,49.0, 32.1,49.6, 35.2,48.1, 40.0,49.6, 7.3,49.1, 8.4,49.1, 9.4,49.7, 9.3,48.5, 10.3,49.0, 10.0,48.0, 11.1,48.2, 15.3,49.1, 16.2,48.6, 17.3,49.1, 14.3,47.8, 16.1,47.5, 17.2,47.8, 15.0,47.0, 18.0,46.8, 19.1,46.4, 20.3,46.2, 18.9,45.4, 20.1,45.2, 18.5,44.4, 6.4,44.5, 7.5,44.7, 7.1,43.6, 8.2,43.8, 9.2,43.7, 10.3,44.1, 10.0,43.1, 30.2,44.3, 31.4,44.5, 32.5,44.4, 33.8,44.1, 35.0,44.0, 38.8,44.9, 38.0,44.1, 39.1,43.8,
23.7,42.8, 24.9,43.0, 24.3,42.0, 23.3,41.7, 28.8,42.7, 28.0,41.7, 34.3,42.9, 34.3,41.7, 35.1,40.8, 35.7,40.0, 34.5,39.8, 38.0,39.8, 38.1,38.8, 38.5,37.8, 4.5,41.3, 5.4,40.8, 4.6,40.0, 6.7,40.3, 11.9,41.4, 13.0,41.6, 13.9,42.1, 11.9,40.5, 12.8,40.5, 13.7,40.9, 29.8,40.9, 28.9,40.3, 30.2,39.8, 24.8,39.3, 24.2,38.2, 25.3,38.3, 17.9,39.2, 19.3,39.8, 20.5,39.8, 21.5,39.4, 20.0,39.0, 18.8,38.7, 17.1,38.5, 16.0,38.3, 14.8,37.4, 9.1,38.9, 10.2,38.8, 9.1,37.6, 2.2,38.1, 20.5,36.6, 13.9,36.3, 12.8,35.9, 29.1,36.3, 36.7,35.6, 20.5,35.6, 21.6,35.8,
7.2,34.6, 6.2,34.1, 6.9,33.4, 14.0,34.5, 12.6,34.1, 13.9,33.3, 13.0,33.0, 13.6,35.4, 16.9,33.7, 18.0,33.8, 17.6,32.9, 19.0,33.4, 18.9,34.7, 20.1,34.6, 23.3,35.3, 23.4,34.4, 23.8,33.6, 24.5,34.3, 25.7,33.8, 24.8,32.9, 27.3,34.3, 28.1,35.2, 29.1,35.3, 30.1,35.1, 28.5,34.2, 28.7,33.2, 36.1,35.0, 37.7,35.2, 5.1,30.7, 6.0,30.1, 6.8,30.8, 7.1,29.5, 19.5,31.9, 20.6,31.1, 19.8,30.2, 20.9,30.1, 20.4,29.3, 14.7,29.1, 15.7,29.0, 15.5,28.2, 16.4,28.2, 9.5,28.5, 10.8,28.6, 12.2,28.5, 10.2,27.7, 11.5,27.6, 29.7,30.5, 30.9,30.1, 29.8,29.4, 29.6,28.2, 30.9,28.2, 38.2,30.2, 39.3,30.4, 42.2,29.3, 40.3,28.0,
22.7,28.6, 23.5,27.8, 24.3,28.3, 24.4,27.5, 25.5,28.0, 26.7,28.0, 27.1,27.2, 27.6,26.4, 28.7,27.1, 29.8,27.2, 31.1,26.7, 32.1,27.1, 32.9,27.5, 34.1,27.7, 33.6,26.6, 23.1,26.8, 18.5,26.5, 18.7,25.6, 18.1,25.0, 17.0,24.4, 19.1,24.3, 17.9,23.9, 16.9,23.3, 17.2,22.1, 16.9,21.1, 17.0,19.9, 21.9,23.2, 23.8,23.8, 25.0,23.3, 23.4,22.8, 22.5,22.2, 21.5,22.0, 27.5,21.7, 26.5,21.3, 26.8,20.1, 25.8,19.7, 27.0,19.1, 25.4,18.7, 24.5,18.0, 23.4,17.2, 23.3,16.0, 30.3,23.2, 29.6,22.4, 31.6,22.1, 30.7,21.4, 35.4,22.5, 36.3,21.7, 35.3,21.1,
8.1,24.0, 8.6,22.6, 9.6,22.4, 7.8,21.7, 9.0,21.6, 7.2,20.7, 13.6,23.6, 13.0,19.7, 16.7,18.0, 17.8,18.4, 18.4,17.4, 18.5,16.3, 17.6,15.6, 18.5,15.1, 17.7,14.2, 13.5,17.1, 13.2,15.1, 12.1,14.2, 13.5,14.0, 31.2,18.8, 30.6,18.3, 31.9,18.1, 29.6,17.9, 29.1,17.3, 30.3,17.2, 31.3,17.2, 34.5,16.4, 35.5,16.1, 35.8,15.0, 34.8,14.3, 24.0,14.3, 27.4,14.4, 28.0,13.6, 23.3,13.4, 24.2,13.1, 19.5,12.4, 12.4,8.8, 28.5,8.4, 21.8,7.3, 35.1,6.8, 14.9,6.2, 16.0,5.3, 30.7,5.6, 1.2,6.0, 2.5,5.4]

RED = "#F01A20"
GREEN = "#62B748"
AXC = "#505050"
FONT = "Liberation Sans"


def panel(red, green, letter, letter_x, letter_y, width, left, bottom, right, xr, yr, boxed,
          x_offset, y_offset, x_tick_out, x_tick_standoff, y_standoff):
    p = figure(width=width, height=922, x_range=Range1d(*xr), y_range=Range1d(*yr),
               output_backend="svg", toolbar_location=None,
               min_border_left=left, min_border_right=right, min_border_top=10, min_border_bottom=bottom,
               x_axis_location=None, y_axis_location=None, background_fill_color="white")
    p.grid.visible = False
    p.outline_line_color = None
    for side, ticks, tick_out, tick_standoff in (("below", x_ticks, x_tick_out, x_tick_standoff), ("left", y_ticks, 3, 10)):
        ax = LinearAxis(ticker=FixedTicker(ticks=ticks))
        ax.axis_line_color = AXC
        ax.axis_line_width = 2
        ax.major_tick_line_color = AXC
        ax.major_tick_line_width = 1.5
        ax.major_tick_in = 0
        ax.major_tick_out = tick_out
        ax.minor_tick_line_color = None
        ax.major_label_text_font = FONT
        ax.major_label_text_font_size = "18px"
        ax.major_label_text_color = "#1a1a1a"
        ax.major_label_standoff = tick_standoff
        ax.major_label_orientation = "horizontal"
        p.add_layout(ax, side)
    top = LinearAxis(ticker=FixedTicker(ticks=[]), major_label_text_font_size="0px",
                     major_tick_line_color=None, minor_tick_line_color=None,
                     axis_line_color=AXC, axis_line_width=1.5)
    p.add_layout(top, "above")
    if boxed:
        edge = LinearAxis(ticker=FixedTicker(ticks=[]), major_label_text_font_size="0px",
                          major_tick_line_color=None, minor_tick_line_color=None,
                          axis_line_color=AXC, axis_line_width=1.5)
        p.add_layout(edge, "right")
    p.scatter(red[0::2], red[1::2], size=7.4, fill_color=RED, line_color="#111111", line_width=1.2)
    p.scatter(green[0::2], green[1::2], size=7.4, fill_color=GREEN, line_color="#111111", line_width=1.2)
    p.add_layout(Label(x=letter_x, y=letter_y, text=letter, text_font=FONT, text_font_size="46px",
                       text_color="black", text_baseline="alphabetic", text_align="left"))
    p.add_layout(Title(text="X", align="left", offset=x_offset, standoff=0, vertical_align="top",
                       text_font=FONT, text_font_size="28px", text_font_style="normal", text_color="#111111",
                       text_line_height=0.7), "below")
    p.add_layout(Title(text="Y", align="left", offset=y_offset, standoff=y_standoff, vertical_align="middle",
                       text_font=FONT, text_font_size="28px", text_font_style="normal", text_color="#111111",
                       text_line_height=0.7), "left")
    return p


pa = panel(a_red, a_green, "a", 40.8, 102.3, 444, 80, 62, 15, (0, 45.2), (0, 106.9), True, 198, 430, 11, 3, 0)
pb = panel(b_red, b_green, "b", 40.7, 103.3, 418, 80, 58, 0, (0, 43.4), (0, 106.9), False, 191, 430, 7, 3, -20)

open("out.html", "w").write(file_html(row(pa, pb), INLINE))
